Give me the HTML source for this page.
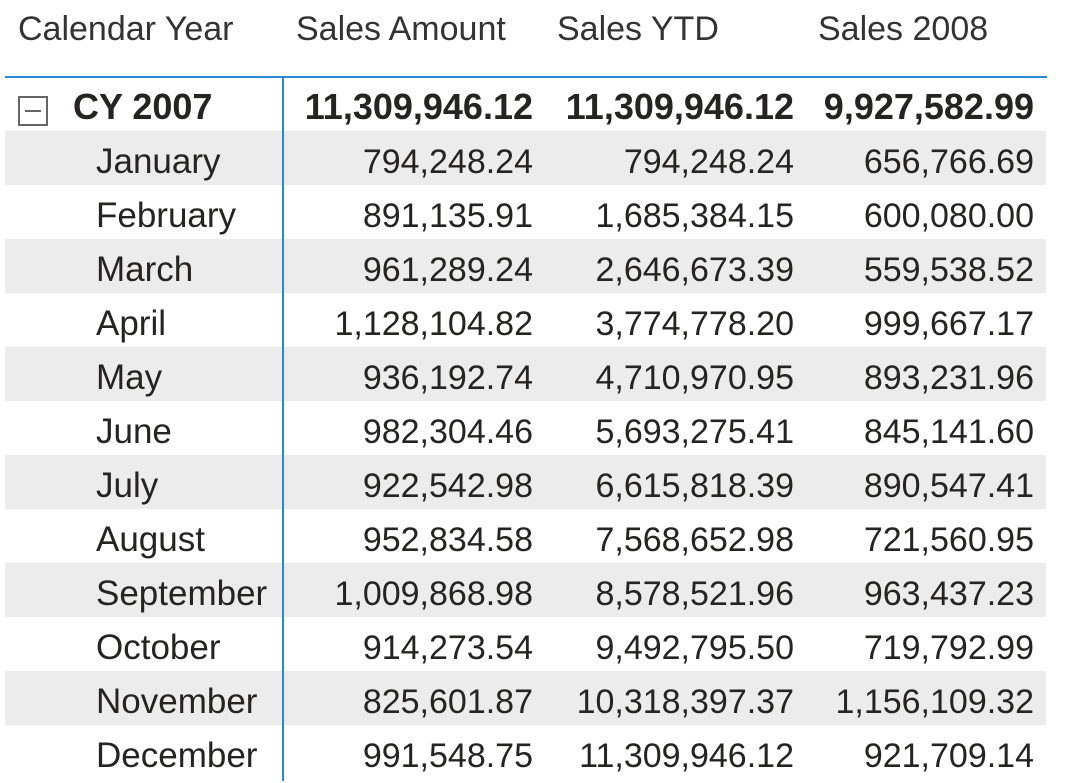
<!DOCTYPE html>
<html><head><meta charset="utf-8"><style>
body{margin:0;width:1069px;height:781px;background:#fff;overflow:hidden;position:relative;font-family:"Liberation Sans",sans-serif;color:#252423}
.h{position:absolute;top:10px;font-size:34px;color:#333;white-space:nowrap}
.row{position:absolute;left:5px;width:1041px;height:54px}
.row.g{background:#ececec}
.c{position:absolute;top:4px;line-height:54px;font-size:34px;white-space:nowrap}
.lab{font-size:35px}
.r{text-align:right}
.b{font-weight:bold;font-size:36px;top:2px}
</style></head><body>
<div class="h" style="left:18px">Calendar Year</div>
<div class="h" style="left:296px">Sales Amount</div>
<div class="h" style="left:557px">Sales YTD</div>
<div class="h" style="left:818px">Sales 2008</div>
<div style="position:absolute;left:5px;top:76px;width:1042px;height:2px;background:#2b88d8"></div>
<div id="tbl"></div>
<div style="position:absolute;left:282px;top:77px;width:2px;height:704px;background:#2b88d8"></div>
<div style="position:absolute;left:18px;top:96px;width:26px;height:26px;border:2px solid #666;box-sizing:content-box"><div style="position:absolute;left:5px;top:12px;width:16px;height:2px;background:#666"></div></div>
<script>
const months=["January","February","March","April","May","June","July","August","September","October","November","December"];
const salesAmount=["794,248.24","891,135.91","961,289.24","1,128,104.82","936,192.74","982,304.46","922,542.98","952,834.58","1,009,868.98","914,273.54","825,601.87","991,548.75"];
const salesYTD=["794,248.24","1,685,384.15","2,646,673.39","3,774,778.20","4,710,970.95","5,693,275.41","6,615,818.39","7,568,652.98","8,578,521.96","9,492,795.50","10,318,397.37","11,309,946.12"];
const sales2008=["656,766.69","600,080.00","559,538.52","999,667.17","893,231.96","845,141.60","890,547.41","721,560.95","963,437.23","719,792.99","1,156,109.32","921,709.14"];
const totals=["CY 2007","11,309,946.12","11,309,946.12","9,927,582.99"];
const tbl=document.getElementById('tbl');
function mkRow(top,cls,label,vals,bold,nm){
  const r=document.createElement('div');
  r.className='row'+cls;r.style.top=top+'px';
  
  
  const l=document.createElement('div');
  l.className='c lab'+(bold?' b':'');l.style.left=(bold?68:91)+'px';l.textContent=label;
  
  
  r.appendChild(l);
  const rights=[528,789,1029];
  vals.forEach((v,i)=>{
    const c=document.createElement('div');
    c.className='c r'+(bold?' b':'');c.style.right=(1041-rights[i])+'px';c.textContent=v;
    
    
    r.appendChild(c);
  });
  tbl.appendChild(r);
}
mkRow(78,'',totals[0],totals.slice(1),true,'total-row');
months.forEach((m,i)=>mkRow(131+i*54,i%2===0?' g':'',m,[salesAmount[i],salesYTD[i],sales2008[i]],false,'month-row'));
</script>
</body></html>
